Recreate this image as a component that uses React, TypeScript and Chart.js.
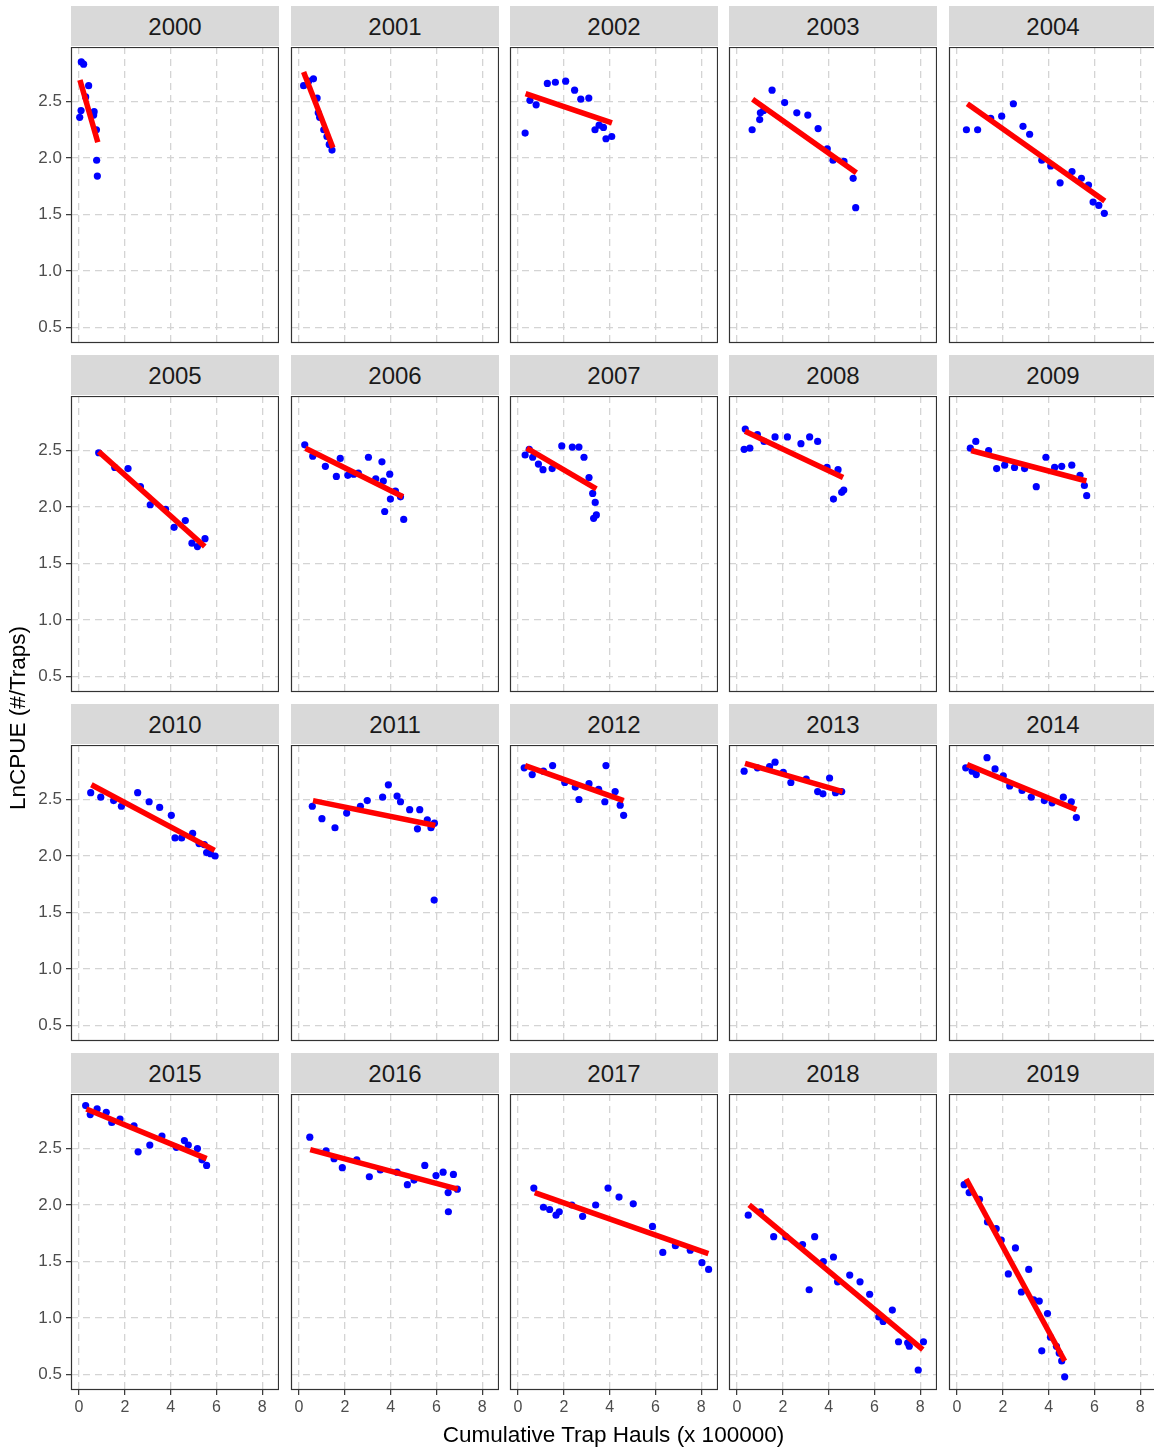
import React, { useEffect, useRef } from "react";
import { Chart, registerables } from "chart.js";

Chart.register(...registerables);

// Facet years, laid out 5 per row
const years = [
  2000, 2001, 2002, 2003, 2004, 2005, 2006, 2007, 2008, 2009,
  2010, 2011, 2012, 2013, 2014, 2015, 2016, 2017, 2018, 2019,
];

// Cumulative trap hauls (x 100000) and ln CPUE per year
const h2000 = [0.10, 0.20, 0.42, 0.29, 0.09, 0.03, 0.66, 0.64, 0.76, 0.77, 0.80];
const c2000 = [2.85, 2.83, 2.64, 2.54, 2.42, 2.36, 2.41, 2.38, 2.25, 1.98, 1.84];

const h2001 = [0.20, 0.42, 0.63, 0.79, 0.84, 0.90, 1.08, 1.22, 1.32, 1.44];
const c2001 = [2.64, 2.68, 2.70, 2.53, 2.40, 2.36, 2.25, 2.19, 2.12, 2.07];

const h2002 = [0.31, 0.52, 0.79, 1.28, 1.63, 2.08, 2.47, 2.74, 3.09, 3.36, 3.54, 3.73, 3.84, 4.09];
const c2002 = [2.22, 2.51, 2.47, 2.66, 2.67, 2.68, 2.60, 2.52, 2.53, 2.25, 2.29, 2.27, 2.17, 2.19];

const h2003 = [0.66, 0.99, 1.02, 1.16, 1.53, 2.08, 2.61, 3.09, 3.54, 3.94, 4.19, 4.67, 5.07, 5.18];
const c2003 = [2.25, 2.34, 2.40, 2.42, 2.60, 2.49, 2.40, 2.38, 2.26, 2.08, 1.98, 1.97, 1.82, 1.56];

const h2004 = [0.41, 0.90, 1.47, 1.95, 2.46, 2.88, 3.17, 3.70, 4.09, 4.50, 5.02, 5.43, 5.74, 5.94, 6.19, 6.43];
const c2004 = [2.25, 2.25, 2.35, 2.37, 2.48, 2.28, 2.21, 1.98, 1.93, 1.78, 1.88, 1.82, 1.76, 1.61, 1.58, 1.51];

const h2005 = [0.86, 1.56, 2.14, 2.68, 3.11, 3.78, 4.15, 4.64, 4.93, 5.17, 5.50];
const c2005 = [2.48, 2.35, 2.34, 2.18, 2.02, 1.98, 1.82, 1.88, 1.68, 1.65, 1.72];

const h2006 = [0.25, 0.60, 1.15, 1.63, 1.80, 2.13, 2.39, 2.59, 3.03, 3.35, 3.62, 3.68, 3.74, 3.96, 3.99, 4.21, 4.43, 4.57];
const c2006 = [2.55, 2.45, 2.36, 2.27, 2.43, 2.28, 2.29, 2.30, 2.44, 2.25, 2.40, 2.23, 1.96, 2.29, 2.07, 2.14, 2.09, 1.89];

const h2007 = [0.31, 0.49, 0.64, 0.89, 1.09, 1.49, 1.91, 2.37, 2.66, 2.88, 3.10, 3.26, 3.37, 3.42, 3.30];
const c2007 = [2.46, 2.51, 2.44, 2.38, 2.33, 2.34, 2.54, 2.53, 2.53, 2.44, 2.26, 2.12, 2.04, 1.93, 1.90];

const h2008 = [0.31, 0.56, 0.36, 0.89, 1.18, 1.66, 2.20, 2.79, 3.17, 3.52, 3.93, 4.41, 4.21, 4.57, 4.66];
const c2008 = [2.51, 2.52, 2.69, 2.64, 2.58, 2.62, 2.62, 2.56, 2.62, 2.58, 2.35, 2.33, 2.07, 2.13, 2.15];

const h2009 = [0.58, 0.82, 1.38, 1.73, 2.08, 2.51, 2.95, 3.46, 3.88, 4.26, 4.57, 5.01, 5.37, 5.56, 5.66];
const c2009 = [2.52, 2.58, 2.50, 2.34, 2.37, 2.35, 2.34, 2.18, 2.44, 2.35, 2.36, 2.37, 2.28, 2.19, 2.10];

const h2010 = [0.51, 0.95, 1.51, 1.85, 2.56, 3.06, 3.52, 4.03, 4.19, 4.48, 4.96, 5.24, 5.47, 5.57, 5.74, 5.94];
const c2010 = [2.56, 2.52, 2.49, 2.44, 2.56, 2.48, 2.43, 2.36, 2.16, 2.16, 2.20, 2.11, 2.10, 2.03, 2.02, 2.00];

const h2011 = [0.58, 1.00, 1.57, 2.08, 2.68, 2.98, 3.65, 3.90, 4.28, 4.43, 4.83, 5.27, 5.17, 5.60, 5.76, 5.91, 5.90];
const c2011 = [2.44, 2.33, 2.25, 2.38, 2.44, 2.49, 2.52, 2.63, 2.53, 2.48, 2.41, 2.41, 2.24, 2.32, 2.25, 2.29, 1.61];

const h2012 = [0.27, 0.62, 1.11, 1.51, 2.04, 2.50, 2.66, 3.10, 3.52, 3.84, 3.79, 4.24, 4.46, 4.61];
const c2012 = [2.78, 2.72, 2.75, 2.80, 2.65, 2.61, 2.50, 2.64, 2.59, 2.80, 2.48, 2.57, 2.45, 2.36];

const h2013 = [0.31, 0.89, 1.42, 1.66, 2.02, 2.35, 3.02, 3.52, 3.75, 4.04, 4.30, 4.57];
const c2013 = [2.75, 2.78, 2.79, 2.83, 2.74, 2.65, 2.68, 2.57, 2.55, 2.69, 2.56, 2.57];

const h2014 = [0.38, 0.66, 0.84, 1.31, 1.66, 2.02, 2.30, 2.84, 3.24, 3.81, 4.15, 4.64, 4.99, 5.21];
const c2014 = [2.78, 2.75, 2.72, 2.87, 2.77, 2.71, 2.62, 2.58, 2.52, 2.49, 2.47, 2.52, 2.48, 2.34];

const h2015 = [0.29, 0.49, 0.79, 1.19, 1.43, 1.79, 2.40, 2.58, 3.09, 3.62, 4.25, 4.60, 4.77, 5.17, 5.37, 5.57];
const c2015 = [2.88, 2.80, 2.85, 2.82, 2.73, 2.76, 2.70, 2.47, 2.53, 2.61, 2.51, 2.57, 2.53, 2.50, 2.40, 2.35];

const h2016 = [0.47, 1.18, 1.53, 1.89, 2.52, 3.07, 3.55, 4.28, 4.73, 5.02, 5.49, 5.98, 6.29, 6.51, 6.52, 6.74, 6.91];
const c2016 = [2.60, 2.48, 2.41, 2.33, 2.40, 2.25, 2.31, 2.29, 2.18, 2.22, 2.35, 2.26, 2.29, 2.11, 1.94, 2.27, 2.14];

const h2017 = [0.69, 1.11, 1.38, 1.66, 1.80, 2.35, 2.82, 3.39, 3.93, 4.41, 5.03, 5.87, 6.32, 6.87, 7.52, 8.03, 8.32];
const c2017 = [2.15, 1.98, 1.96, 1.91, 1.94, 2.00, 1.90, 2.00, 2.15, 2.07, 2.01, 1.81, 1.58, 1.64, 1.60, 1.49, 1.43];

const h2018 = [0.49, 1.02, 1.60, 2.13, 2.86, 3.15, 3.39, 3.77, 4.21, 4.39, 4.92, 5.37, 5.79, 6.19, 6.38, 6.78, 7.05, 7.45, 7.52, 7.91, 8.14];
const c2018 = [1.91, 1.94, 1.72, 1.72, 1.65, 1.25, 1.72, 1.50, 1.54, 1.32, 1.38, 1.32, 1.21, 1.01, 0.97, 1.07, 0.79, 0.78, 0.75, 0.54, 0.79];

const h2019 = [0.31, 0.53, 0.98, 1.33, 1.71, 1.93, 2.24, 2.55, 2.81, 3.13, 3.35, 3.59, 3.70, 3.95, 4.08, 4.34, 4.46, 4.57, 4.70];
const c2019 = [2.18, 2.11, 2.05, 1.85, 1.79, 1.69, 1.39, 1.62, 1.23, 1.43, 1.16, 1.15, 0.71, 1.04, 0.83, 0.75, 0.69, 0.62, 0.48];

// Linear fit end points for each year
const fitX0 = [0.04, 0.20, 0.33, 0.68, 0.45, 0.86, 0.28, 0.38, 0.35, 0.62, 0.54, 0.61, 0.31, 0.35, 0.44, 0.32, 0.49, 0.73, 0.53, 0.40];
const fitY0 = [2.69, 2.76, 2.57, 2.52, 2.48, 2.49, 2.52, 2.52, 2.67, 2.50, 2.63, 2.49, 2.80, 2.82, 2.81, 2.85, 2.49, 2.11, 2.00, 2.23];
const fitX1 = [0.82, 1.48, 4.10, 5.21, 6.45, 5.49, 4.54, 3.42, 4.63, 5.65, 5.92, 5.95, 4.61, 4.61, 5.21, 5.57, 6.93, 8.31, 8.11, 4.70];
const fitY1 = [2.14, 2.09, 2.31, 1.87, 1.62, 1.65, 2.09, 2.16, 2.26, 2.23, 2.05, 2.27, 2.49, 2.57, 2.41, 2.41, 2.14, 1.57, 0.72, 0.62];

// Axis ticks and limits (shared by every facet)
const xTickValues = [0, 2, 4, 6, 8];
const yTickValues = [0.5, 1.0, 1.5, 2.0, 2.5];
const xLimits = [-0.35, 8.73];
const yLimits = [0.363, 2.982];

const haulsByYear = [
  h2000, h2001, h2002, h2003, h2004, h2005, h2006, h2007, h2008, h2009,
  h2010, h2011, h2012, h2013, h2014, h2015, h2016, h2017, h2018, h2019,
];
const cpueByYear = [
  c2000, c2001, c2002, c2003, c2004, c2005, c2006, c2007, c2008, c2009,
  c2010, c2011, c2012, c2013, c2014, c2015, c2016, c2017, c2018, c2019,
];

// Facet geometry
const PANEL_W = 208;
const PANEL_H = 296;
const COL_LEFT = [71, 291, 510, 729, 949];
const ROW_TOP = [47, 396, 745, 1094];
const STRIP_H = 40;
const MARGIN_L = 70;
const MARGIN_B = 40;

const FONT = '"Liberation Sans", Arial, Helvetica, sans-serif';
const GRID_COLOUR = "#D4D4D4";

const panelFrame = {
  id: "panelFrame",
  afterDraw(chart: any) {
    const { ctx, chartArea: a } = chart;
    ctx.save();
    ctx.setLineDash([]);
    ctx.strokeStyle = "#333333";
    ctx.lineWidth = 1.2;
    ctx.strokeRect(
      Math.round(a.left) + 0.5,
      Math.round(a.top) + 0.5,
      Math.round(a.right - a.left) - 1,
      Math.round(a.bottom - a.top) - 1
    );
    ctx.restore();
  },
};

function Facet({ index }: { index: number }) {
  const ref = useRef<HTMLCanvasElement | null>(null);
  const col = index % 5;
  const row = Math.floor(index / 5);
  const showY = col === 0;
  const showX = row === 3;

  useEffect(() => {
    const canvas = ref.current;
    if (!canvas) return;
    const xs = haulsByYear[index];
    const ys = cpueByYear[index];
    const points = xs.map((x, k) => ({ x, y: ys[k] }));
    const fit = [
      { x: fitX0[index], y: fitY0[index] },
      { x: fitX1[index], y: fitY1[index] },
    ];

    const chart = new Chart(canvas, {
      type: "scatter",
      data: {
        datasets: [
          {
            data: fit,
            showLine: true,
            borderColor: "#FF0000",
            backgroundColor: "#FF0000",
            borderWidth: 5.5,
            borderCapStyle: "butt",
            pointRadius: 0,
            order: 0,
          } as any,
          {
            data: points,
            backgroundColor: "#0000FF",
            borderColor: "#0000FF",
            borderWidth: 0,
            pointRadius: 3.6,
            order: 1,
          },
        ],
      },
      options: {
        responsive: false,
        animation: false,
        events: [],
        layout: { padding: 0, autoPadding: false },
        plugins: {
          legend: { display: false },
          tooltip: { enabled: false },
        },
        scales: {
          x: {
            type: "linear",
            min: xLimits[0],
            max: xLimits[1],
            afterBuildTicks: (s: any) => {
              s.ticks = xTickValues.map((v) => ({ value: v }));
            },
            afterFit: (s: any) => {
              s.height = MARGIN_B;
              s.paddingLeft = 0;
              s.paddingRight = 0;
              s.paddingTop = 0;
              s.paddingBottom = 0;
            },
            grid: {
              color: GRID_COLOUR,
              lineWidth: 1.3,
              drawTicks: showX,
              tickLength: 5,
              tickColor: "#333333",
              tickWidth: 1.2,
            },
            border: { display: false, dash: [7, 5] },
            ticks: {
              display: showX,
              color: "#4D4D4D",
              padding: 3,
              maxRotation: 0,
              autoSkip: false,
              font: { family: FONT, size: 16 },
              callback: (v: any) => String(v),
            },
          },
          y: {
            type: "linear",
            min: yLimits[0],
            max: yLimits[1],
            afterBuildTicks: (s: any) => {
              s.ticks = yTickValues.map((v) => ({ value: v }));
            },
            afterFit: (s: any) => {
              s.width = MARGIN_L;
              s.paddingLeft = 0;
              s.paddingRight = 0;
              s.paddingTop = 0;
              s.paddingBottom = 0;
            },
            grid: {
              color: GRID_COLOUR,
              lineWidth: 1.3,
              drawTicks: showY,
              tickLength: 5,
              tickColor: "#333333",
              tickWidth: 1.2,
            },
            border: { display: false, dash: [7, 5] },
            ticks: {
              display: showY,
              color: "#4D4D4D",
              padding: 4,
              autoSkip: false,
              font: { family: FONT, size: 17 },
              callback: (v: any) => Number(v).toFixed(1),
            },
          },
        },
      },
      plugins: [panelFrame],
    });
    return () => chart.destroy();
  }, [index]);

  const left = COL_LEFT[col];
  const top = ROW_TOP[row];
  return (
    <>
      <div
        style={{
          position: "absolute",
          left,
          top: top - STRIP_H - 1,
          width: PANEL_W,
          height: STRIP_H,
          background: "#D9D9D9",
          color: "#1A1A1A",
          fontFamily: FONT,
          fontSize: 24,
          display: "flex",
          alignItems: "center",
          justifyContent: "center",
          paddingTop: 2,
          boxSizing: "border-box",
        }}
      >
        {years[index]}
      </div>
      <canvas
        ref={ref}
        width={PANEL_W + MARGIN_L}
        height={PANEL_H + MARGIN_B}
        style={{
          position: "absolute",
          left: left - MARGIN_L,
          top,
          width: PANEL_W + MARGIN_L,
          height: PANEL_H + MARGIN_B,
        }}
      />
    </>
  );
}

export default function App() {
  return (
    <div
      style={{
        position: "fixed",
        left: 0,
        top: 0,
        width: 1154,
        height: 1449,
        overflow: "hidden",
        background: "#FFFFFF",
        fontFamily: FONT,
      }}
    >
      {years.map((y, i) => (
        <Facet key={y} index={i} />
      ))}
      <div
        style={{
          position: "absolute",
          left: 71,
          top: 1421,
          width: 1085,
          height: 28,
          lineHeight: "28px",
          textAlign: "center",
          fontSize: 22.5,
          color: "#000000",
        }}
      >
        Cumulative Trap Hauls (x 100000)
      </div>
      <div
        style={{
          position: "absolute",
          left: 18 - 300,
          top: 718 - 14,
          width: 600,
          height: 28,
          lineHeight: "28px",
          textAlign: "center",
          fontSize: 22.5,
          color: "#000000",
          transform: "rotate(-90deg)",
        }}
      >
        LnCPUE (#/Traps)
      </div>
    </div>
  );
}
